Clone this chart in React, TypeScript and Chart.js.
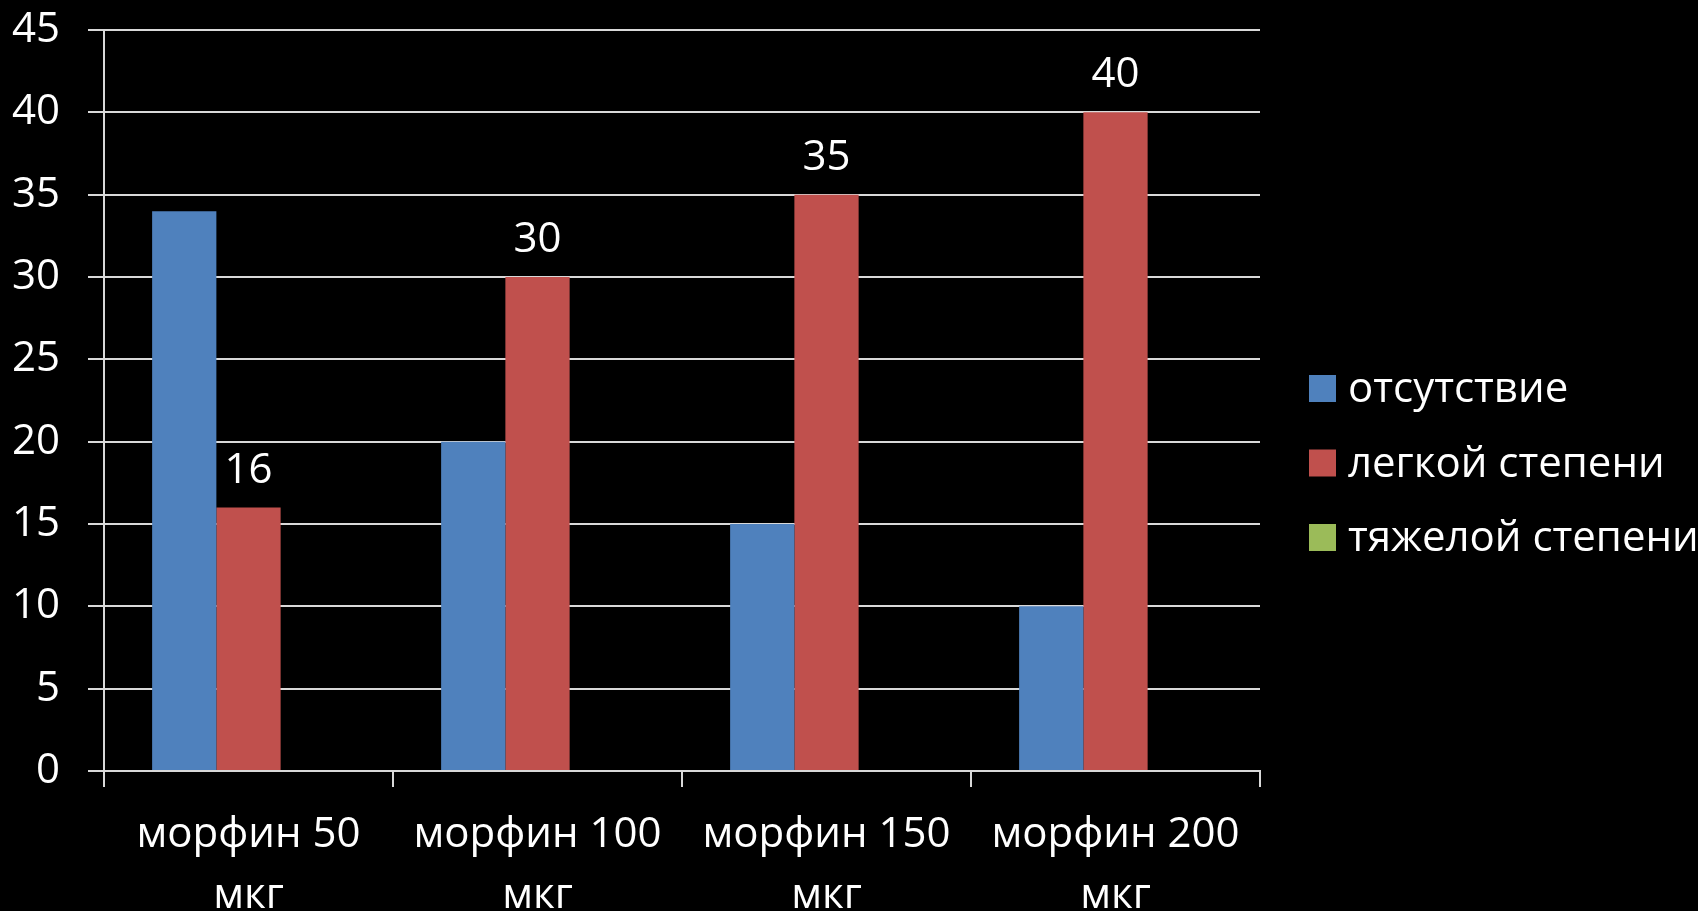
import React, { useEffect, useRef } from "react";
import { Chart, registerables } from "chart.js";

Chart.register(...registerables);

const categories: string[][] = [
  ["морфин 50", "мкг"],
  ["морфин 100", "мкг"],
  ["морфин 150", "мкг"],
  ["морфин 200", "мкг"],
];
const seriesNames = ["отсутствие", "легкой степени", "тяжелой степени"];
const absentValues = [34, 20, 15, 10];
const mildValues = [16, 30, 35, 40];
const severeValues = [0, 0, 0, 0];
const seriesColors = ["#4F81BD", "#C0504D", "#9BBB59"];
const labelledSeries = [1];

const FONT = "'Open Sans', 'Liberation Sans', sans-serif";
const FONT_SIZE = 42;

const dataLabelPlugin = {
  id: "dataLabelPlugin",
  afterDatasetsDraw(chart: any) {
    const ctx = chart.ctx;
    ctx.save();
    ctx.fillStyle = "#ffffff";
    ctx.font = `${FONT_SIZE}px ${FONT}`;
    ctx.textAlign = "center";
    ctx.textBaseline = "alphabetic";
    labelledSeries.forEach((di) => {
      const meta = chart.getDatasetMeta(di);
      const ds = chart.data.datasets[di];
      meta.data.forEach((el: any, i: number) => {
        ctx.fillText(String(ds.data[i]), el.x, el.y - 25);
      });
    });
    ctx.restore();
  },
};

const legendPlugin = {
  id: "customLegend",
  afterDraw(chart: any) {
    const ctx = chart.ctx;
    const area = chart.chartArea;
    const x0 = area.right + 49;
    const yTop = 375;
    const step = 74.5;
    const box = 27;
    ctx.save();
    ctx.font = `${FONT_SIZE}px ${FONT}`;
    ctx.textAlign = "left";
    ctx.textBaseline = "alphabetic";
    chart.data.datasets.forEach((ds: any, i: number) => {
      const y = yTop + i * step;
      ctx.fillStyle = ds.backgroundColor;
      ctx.fillRect(x0, y, box, box);
      ctx.fillStyle = "#ffffff";
      ctx.fillText(ds.label, x0 + box + 12, y + box);
    });
    ctx.restore();
  },
};

export default function App() {
  const canvasRef = useRef<HTMLCanvasElement | null>(null);

  useEffect(() => {
    const canvas = canvasRef.current;
    if (!canvas) return;
    const chart = new Chart(canvas, {
      type: "bar",
      data: {
        labels: categories,
        datasets: [
          { label: seriesNames[0], data: absentValues, backgroundColor: seriesColors[0] },
          { label: seriesNames[1], data: mildValues, backgroundColor: seriesColors[1] },
          { label: seriesNames[2], data: severeValues, backgroundColor: seriesColors[2] },
        ],
      },
      options: {
        responsive: false,
        animation: false,
        maintainAspectRatio: false,
        layout: { padding: { top: 30, right: 438, left: 0, bottom: 0 } },
        datasets: {
          bar: { barPercentage: 1, categoryPercentage: 0.667 },
        },
        plugins: {
          legend: { display: false },
          tooltip: { enabled: false },
        },
        scales: {
          x: {
            afterFit(scale: any) {
              scale.height = 140;
              scale.paddingLeft = 0;
              scale.paddingRight = 0;
            },
            grid: {
              display: true,
              drawOnChartArea: false,
              drawTicks: true,
              tickLength: 16,
              color: "#d9d9d9",
              lineWidth: 2,
              offset: true,
            },
            border: { display: true, color: "#d9d9d9", width: 2 },
            ticks: {
              color: "#ffffff",
              font: { family: FONT, size: FONT_SIZE, lineHeight: 1.45 },
              padding: 18,
              maxRotation: 0,
              autoSkip: false,
            },
          },
          y: {
            min: 0,
            max: 45,
            afterFit(scale: any) {
              scale.width = 104;
              scale.paddingTop = 0;
              scale.paddingBottom = 0;
            },
            grid: {
              display: true,
              drawOnChartArea: true,
              drawTicks: true,
              tickLength: 16,
              color: "#d9d9d9",
              lineWidth: 2,
            },
            border: { display: true, color: "#d9d9d9", width: 2 },
            ticks: {
              stepSize: 5,
              color: "#ffffff",
              font: { family: FONT, size: FONT_SIZE },
              padding: 28,
            },
          },
        },
      },
      plugins: [dataLabelPlugin, legendPlugin],
    });
    return () => chart.destroy();
  }, []);

  return (
    <div style={{ position: "fixed", left: 0, top: 0, width: 1698, height: 911, background: "#000000" }}>
      <canvas ref={canvasRef} width={1698} height={911} style={{ display: "block", width: 1698, height: 911 }} />
    </div>
  );
}
